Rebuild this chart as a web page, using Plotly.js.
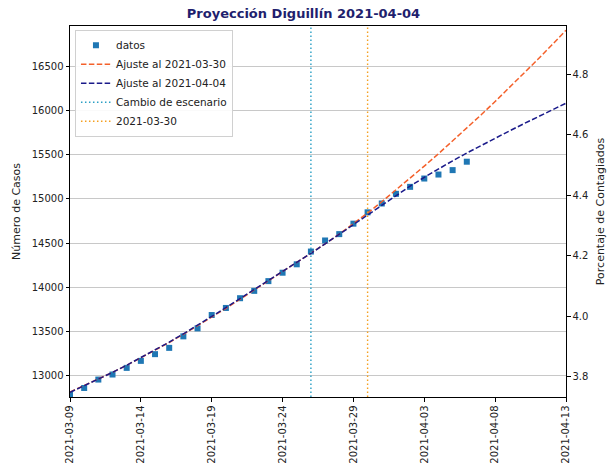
<!DOCTYPE html>
<html>
<head>
<meta charset="utf-8">
<script src="https://cdn.plot.ly/plotly-3.0.1.min.js"></script>
<style>html,body{margin:0;padding:0;background:#fff;}#chart{width:607px;height:465px;}</style>
</head>
<body>
<div id="chart"></div>
<script>
// Observed data
const dataDates = ["2021-03-09","2021-03-10","2021-03-11","2021-03-12","2021-03-13","2021-03-14","2021-03-15","2021-03-16","2021-03-17","2021-03-18","2021-03-19","2021-03-20","2021-03-21","2021-03-22","2021-03-23","2021-03-24","2021-03-25","2021-03-26","2021-03-27","2021-03-28","2021-03-29","2021-03-30","2021-03-31","2021-04-01","2021-04-02","2021-04-03","2021-04-04","2021-04-05","2021-04-06"];
const casos = [12793,12864,12959,13016,13091,13170,13246,13317,13447,13537,13688,13768,13878,13961,14071,14166,14261,14405,14530,14602,14720,14848,14948,15057,15136,15230,15275,15325,15420];

// Fit curves
const fitDates = ["2021-03-09","2021-03-10","2021-03-11","2021-03-12","2021-03-13","2021-03-14","2021-03-15","2021-03-16","2021-03-17","2021-03-18","2021-03-19","2021-03-20","2021-03-21","2021-03-22","2021-03-23","2021-03-24","2021-03-25","2021-03-26","2021-03-27","2021-03-28","2021-03-29","2021-03-30","2021-03-31","2021-04-01","2021-04-02","2021-04-03","2021-04-04","2021-04-05","2021-04-06","2021-04-07","2021-04-08","2021-04-09","2021-04-10","2021-04-11","2021-04-12","2021-04-13"];
const ajuste0330 = [12818,12889,12963,13040,13120,13203,13289,13378,13470,13565,13663,13764,13867,13970,14073,14177,14281,14386,14491,14602,14718,14840,14968,15099,15233,15370,15510,15653,15799,15948,16100,16255,16413,16574,16738,16905];
const ajuste0404 = [12815,12887,12962,13040,13121,13205,13292,13382,13475,13571,13670,13771,13874,13975,14076,14178,14281,14385,14492,14600,14710,14822,14932,15040,15144,15244,15339,15430,15518,15603,15686,15767,15847,15926,16004,16081];

// Vertical markers
const cambioEscenario = "2021-03-26";
const fechaCorte = "2021-03-30";

// Axis settings
const yRange = [12762, 16953];
const poblacion = 341800;
const yTicks = [13000,13500,14000,14500,15000,15500,16000,16500];
const y2Ticks = [3.8,4.0,4.2,4.4,4.6,4.8];
const xTickDates = ["2021-03-09","2021-03-14","2021-03-19","2021-03-24","2021-03-29","2021-04-03","2021-04-08","2021-04-13"];

const y2Range = yRange.map(v => v * 100 / poblacion);

const traces = [
  {x: dataDates, y: casos, type: 'scatter', mode: 'markers', name: 'datos',
   marker: {symbol: 'square', size: 6, color: '#1f77b4'}},
  {x: fitDates, y: ajuste0330, type: 'scatter', mode: 'lines', name: 'Ajuste al 2021-03-30',
   line: {color: '#f4602a', width: 1.5, dash: '5.5px,2.4px'}},
  {x: fitDates, y: ajuste0404, type: 'scatter', mode: 'lines', name: 'Ajuste al 2021-04-04',
   line: {color: '#1a1a8a', width: 1.5, dash: '5.5px,2.4px'}},
  {x: [cambioEscenario, cambioEscenario], y: yRange, type: 'scatter', mode: 'lines', name: 'Cambio de escenario',
   line: {color: '#2a9fc4', width: 1.4, dash: '1.5px,2.5px'}},
  {x: [fechaCorte, fechaCorte], y: yRange, type: 'scatter', mode: 'lines', name: '2021-03-30',
   line: {color: '#f5a020', width: 1.4, dash: '1.5px,2.5px'}},
  {x: [fitDates[0], fitDates[fitDates.length-1]], y: y2Range, type: 'scatter', mode: 'markers', yaxis: 'y2',
   marker: {opacity: 0}, showlegend: false, hoverinfo: 'skip'}
];

const font = {family: 'DejaVu Sans, sans-serif', size: 10, color: '#222'};

const layout = {
  width: 607, height: 465,
  margin: {l: 69.5, r: 41.3, t: 26, b: 68.3},
  paper_bgcolor: '#fff', plot_bgcolor: '#fff',
  font: font,
  showlegend: true,
  title: {text: '<b>Proyección Diguillín 2021-04-04</b>', x: 0.5, xanchor: 'center', y: 0.972, yanchor: 'middle',
          font: {family: 'DejaVu Sans, sans-serif', size: 13, color: '#1f1f6e'}},
  xaxis: {
    type: 'date', range: [fitDates[0], fitDates[fitDates.length-1]],
    tickmode: 'array', tickvals: xTickDates, ticktext: xTickDates, tickangle: -90,
    showgrid: false, zeroline: false,
    showline: true, linecolor: '#000', linewidth: 1, mirror: true,
    ticks: 'outside', ticklen: 3.5, tickcolor: '#000', tickfont: {size: 10, color: '#222'}
  },
  yaxis: {
    range: yRange, tickvals: yTicks, ticktext: yTicks.map(String),
    title: {text: 'Número de Casos', font: {size: 11, color: '#222'}, standoff: 8},
    showgrid: true, gridcolor: '#c8c8c8', gridwidth: 1, zeroline: false,
    showline: true, linecolor: '#000', linewidth: 1,
    ticks: 'outside', ticklen: 3.5, tickcolor: '#000', tickfont: {size: 10, color: '#222'}
  },
  yaxis2: {
    overlaying: 'y', side: 'right', range: y2Range,
    tickvals: y2Ticks, ticktext: y2Ticks.map(v => v.toFixed(1)),
    title: {text: 'Porcentaje de Contagiados', font: {size: 11, color: '#222'}, standoff: 8},
    showgrid: false, zeroline: false,
    showline: true, linecolor: '#000', linewidth: 1,
    ticks: 'outside', ticklen: 3.5, tickcolor: '#000', tickfont: {size: 10, color: '#222'}
  },
  legend: {
    x: 0.01, y: 0.99, xanchor: 'left', yanchor: 'top',
    bgcolor: 'rgba(255,255,255,0.9)', bordercolor: '#d0d0d0', borderwidth: 1,
    font: {size: 10.5, color: '#222'}, tracegroupgap: 0, itemwidth: 30,
    entrywidth: 0
  }
};

Plotly.newPlot('chart', traces, layout, {displayModeBar: false, staticPlot: true});
</script>
</body>
</html>
